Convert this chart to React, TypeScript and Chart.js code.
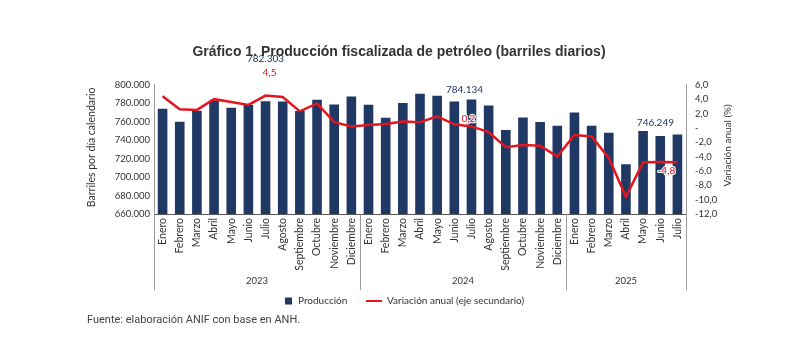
import { useEffect, useRef } from "react";
import { Chart, registerables } from "chart.js";

Chart.register(...registerables);

const months = ["Enero", "Febrero", "Marzo", "Abril", "Mayo", "Junio", "Julio", "Agosto", "Septiembre", "Octubre", "Noviembre", "Diciembre"];
const years = ["2023", "2024", "2025"];
const monthsPerYear = [12, 12, 7];

const categories: string[] = [
  ...months,
  ...months,
  ...months.slice(0, 7),
];

// Producción fiscalizada de petróleo (barriles por día calendario)
const production = [
  774000, 760000, 772000, 783000, 775000, 778000, 782303, 782000, 771500, 783800, 778700, 787200,
  778400, 764300, 780200, 790300, 788100, 782000, 784134, 777700, 751000, 764700, 759700, 755700,
  770000, 755700, 748100, 714000, 750000, 744500, 746249,
];

// Variación anual (%)
const variation = [
  4.4, 2.6, 2.5, 4.0, 3.6, 3.2, 4.5, 4.3, 2.3, 3.4, 0.8, 0.2,
  0.4, 0.55, 0.9, 0.8, 1.6, 0.5, 0.2, -0.6, -2.7, -2.4, -2.5, -4.0,
  -1.0, -1.2, -4.2, -9.6, -4.8, -4.75, -4.8,
];

const leftTicks = { min: 660000, max: 800000, step: 20000 };
const rightTicks = { min: -12, max: 6, step: 2 };

const labeledIndexes = [6, 18, 30];

const NAVY = "#1f3864";
const RED = "#e3151f";
const TEXT = "#333333";
const FONT = "Lato, 'Noto Sans', sans-serif";

const fmtThousands = (v: number) => Math.round(v).toString().replace(/\B(?=(\d{3})+(?!\d))/g, ".");
const fmtPct = (v: number) => (v === 0 ? "-" : v.toFixed(1).replace(".", ","));

// label offsets (styling) relative to the element anchor
const prodLabelOffsets = [
  { dx: 0, dy: -42 },
  { dx: -7, dy: -10 },
  { dx: -22, dy: -12 },
];
const varLabelOffsets = [
  { dx: 4, dy: -23 },
  { dx: -3, dy: -8 },
  { dx: -11, dy: 8 },
];

const decorPlugin = {
  id: "decor",
  afterDatasetsDraw(chart: any) {
    const ctx = chart.ctx;
    const barMeta = chart.getDatasetMeta(0);
    const lineMeta = chart.getDatasetMeta(1);
    ctx.save();
    ctx.textAlign = "center";
    ctx.textBaseline = "middle";
    labeledIndexes.forEach((idx, k) => {
      const b = barMeta.data[idx];
      const l = lineMeta.data[idx];
      ctx.font = `10px ${FONT}`;
      ctx.fillStyle = NAVY;
      ctx.fillText(fmtThousands(production[idx]), b.x + prodLabelOffsets[k].dx, b.y + prodLabelOffsets[k].dy);
      const t = fmtPct(variation[idx]);
      const x = l.x + varLabelOffsets[k].dx;
      const y = l.y + varLabelOffsets[k].dy;
      ctx.lineWidth = 2.5;
      ctx.strokeStyle = "rgba(255,255,255,0.9)";
      ctx.lineJoin = "round";
      ctx.strokeText(t, x, y);
      ctx.fillStyle = RED;
      ctx.fillText(t, x, y);
    });
    ctx.restore();
  },
  afterDraw(chart: any) {
    const ctx = chart.ctx;
    const area = chart.chartArea;
    const xs = chart.scales.x;
    ctx.save();
    // year group separators and labels
    const sepBottom = area.bottom + 76;
    let start = 0;
    ctx.strokeStyle = "#9a9a9a";
    ctx.lineWidth = 1;
    const bounds: number[] = [start];
    monthsPerYear.forEach((n) => {
      start += n;
      bounds.push(start);
    });
    bounds.forEach((bIdx) => {
      const px = Math.round(xs.getPixelForValue(bIdx - 0.5)) + 0.5;
      ctx.beginPath();
      ctx.moveTo(px, area.bottom);
      ctx.lineTo(px, sepBottom);
      ctx.stroke();
    });
    ctx.fillStyle = TEXT;
    ctx.font = `9.5px ${FONT}`;
    ctx.textAlign = "center";
    ctx.textBaseline = "middle";
    years.forEach((yr, i) => {
      const a = xs.getPixelForValue(bounds[i] - 0.5);
      const b = xs.getPixelForValue(bounds[i + 1] - 0.5);
      ctx.fillText(yr, (a + b) / 2, area.bottom + 67);
    });

    // axis titles
    const midY = (area.top + area.bottom) / 2;
    ctx.font = `10.5px ${FONT}`;
    ctx.save();
    ctx.translate(92, midY - 2);
    ctx.rotate(-Math.PI / 2);
    ctx.fillText("Barriles por día calendario", 0, 0);
    ctx.restore();
    ctx.font = `10px ${FONT}`;
    ctx.save();
    ctx.translate(area.right + 42, midY - 4);
    ctx.rotate(-Math.PI / 2);
    ctx.fillText("Variación anual (%)", 0, 0);
    ctx.restore();

    // legend
    const ly = area.bottom + 87;
    ctx.textAlign = "left";
    ctx.font = `10px ${FONT}`;
    ctx.fillStyle = NAVY;
    ctx.fillRect(285, ly - 3.5, 7, 7);
    ctx.fillStyle = TEXT;
    ctx.fillText("Producción", 298, ly);
    ctx.strokeStyle = RED;
    ctx.lineWidth = 2;
    ctx.beginPath();
    ctx.moveTo(366, ly);
    ctx.lineTo(382, ly);
    ctx.stroke();
    ctx.fillText("Variación anual (eje secundario)", 387, ly);

    // footer
    ctx.font = `11px Roboto, 'Noto Sans', sans-serif`;
    ctx.fillStyle = "#444444";
    ctx.fillText("Fuente: elaboración ANIF con base en ANH.", 87, 320);
    ctx.restore();
  },
};

export default function App() {
  const ref = useRef<HTMLCanvasElement | null>(null);
  useEffect(() => {
    if (!ref.current) return;
    const chart = new Chart(ref.current, {
      type: "bar",
      data: {
        labels: categories,
        datasets: [
          {
            type: "bar",
            label: "Producción",
            data: production,
            backgroundColor: NAVY,
            barPercentage: 0.56,
            categoryPercentage: 1,
            yAxisID: "y",
            order: 2,
          },
          {
            type: "line",
            label: "Variación anual (eje secundario)",
            data: variation,
            borderColor: RED,
            borderWidth: 2.5,
            pointRadius: 0,
            tension: 0,
            yAxisID: "y1",
            order: 1,
          } as any,
        ],
      },
      options: {
        responsive: false,
        animation: false,
        devicePixelRatio: 1,
        layout: { padding: { top: 0, left: 0, right: 0, bottom: 67 } },
        plugins: {
          legend: { display: false },
          tooltip: { enabled: false },
          title: {
            display: true,
            text: "Gráfico 1. Producción fiscalizada de petróleo (barriles diarios)",
            color: TEXT,
            font: { family: "'Liberation Sans', Arial, sans-serif", size: 14, weight: "bold" },
            padding: { top: 44, bottom: 24 },
          },
        },
        scales: {
          x: {
            grid: { display: false, drawTicks: false },
            border: { color: "#595959" },
            ticks: {
              autoSkip: false,
              maxRotation: 90,
              minRotation: 90,
              padding: 4,
              color: TEXT,
              font: { family: FONT, size: 10.5 },
            },
            afterFit: (s: any) => {
              s.height = 76;
            },
          },
          y: {
            position: "left",
            min: leftTicks.min,
            max: leftTicks.max,
            grid: { display: false, drawTicks: false },
            border: { color: "#9a9a9a" },
            ticks: {
              stepSize: leftTicks.step,
              autoSkip: false,
              padding: 4,
              color: TEXT,
              font: { family: FONT, size: 9.5 },
              callback: (v: any) => fmtThousands(Number(v)),
            },
            afterFit: (s: any) => {
              s.width = 154;
            },
          },
          y1: {
            position: "right",
            min: rightTicks.min,
            max: rightTicks.max,
            grid: { display: false, drawTicks: false },
            border: { color: "#9a9a9a" },
            ticks: {
              stepSize: rightTicks.step,
              autoSkip: false,
              padding: 9,
              color: TEXT,
              font: { family: FONT, size: 9.5 },
              callback: (v: any) => fmtPct(Number(v)),
            },
            afterFit: (s: any) => {
              s.width = 112;
            },
          },
        },
      },
      plugins: [decorPlugin],
    });
    return () => chart.destroy();
  }, []);
  return (
    <div style={{ position: "absolute", left: 0, top: 0, width: 798, height: 357, background: "#fff" }}>
      <canvas ref={ref} width={798} height={357} style={{ display: "block" }} />
    </div>
  );
}
